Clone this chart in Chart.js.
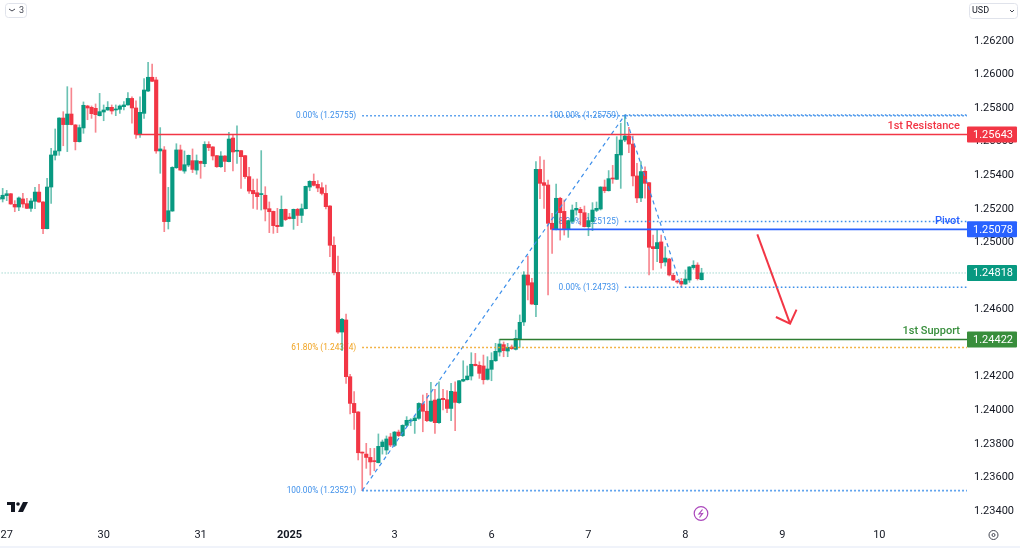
<!DOCTYPE html>
<html>
<head>
<meta charset="utf-8">
<title>Chart</title>
<script src="https://cdn.jsdelivr.net/npm/chart.js@4"></script>
<style>
  html, body { margin: 0; padding: 0; background: #fff; }
  canvas { display: block; }
</style>
</head>
<body>
<canvas id="priceChart" width="1020" height="548"></canvas>
<script>
// hourly candles, one entry per bar
const opens = [
  1.25257,1.25259,1.25279,1.25290,1.25227,1.25211,1.25259,1.25231,1.25203,1.25245,
  1.25300,1.25241,1.25082,1.25330,1.25519,1.25545,1.25741,1.25702,1.25765,1.25700,
  1.25600,1.25682,1.25813,1.25805,1.25799,1.25755,1.25777,1.25789,1.25805,1.25789,
  1.25793,1.25809,1.25819,1.25858,1.25801,1.25644,1.25769,1.25902,1.25984,1.25968,
  1.25545,1.25551,1.25124,1.25187,1.25445,1.25551,1.25425,1.25461,1.25487,1.25431,
  1.25483,1.25469,1.25584,1.25569,1.25517,1.25451,1.25515,1.25481,1.25622,1.25543,
  1.25547,1.25517,1.25392,1.25310,1.25296,1.25285,1.25281,1.25201,1.25185,1.25102,
  1.25096,1.25197,1.25151,1.25142,1.25197,1.25161,1.25201,1.25330,1.25364,1.25346,
  1.25326,1.25292,1.25217,1.24983,1.24822,1.24466,1.24538,1.24200,1.24041,1.23990,
  1.23749,1.23739,1.23719,1.23698,1.23688,1.23783,1.23763,1.23841,1.23791,1.23870,
  1.23849,1.23910,1.23936,1.23938,1.23952,1.24039,1.23994,1.23936,1.24061,1.23926,
  1.24071,1.24063,1.24011,1.24109,1.24045,1.24174,1.24182,1.24204,1.24274,1.24268,
  1.24264,1.24184,1.24244,1.24295,1.24347,1.24391,1.24353,1.24377,1.24363,1.24425,
  1.24526,1.24806,1.24760,1.24629,1.25435,1.25356,1.25342,1.25114,1.25078,1.25263,
  1.25185,1.25078,1.25126,1.25193,1.25197,1.25177,1.25094,1.25124,1.25191,1.25199,
  1.25330,1.25308,1.25382,1.25376,1.25521,1.25610,1.25634,1.25586,1.25396,1.25265,
  1.25424,1.25356,1.24975,1.24963,1.25003,1.24883,1.24901,1.24804,1.24770,1.24768,
  1.24752,1.24776,1.24850,1.24865,1.24778
];
const highs = [
  1.25283,1.25322,1.25310,1.25292,1.25249,1.25271,1.25292,1.25263,1.25261,1.25328,
  1.25346,1.25243,1.25382,1.25561,1.25676,1.25743,1.25779,1.25928,1.25920,1.25702,
  1.25700,1.25837,1.25817,1.25813,1.25825,1.25888,1.25819,1.25839,1.25819,1.25819,
  1.25819,1.25839,1.25892,1.25868,1.25843,1.25868,1.25976,1.26073,1.26063,1.25984,
  1.25684,1.25571,1.25328,1.25451,1.25588,1.25580,1.25545,1.25521,1.25557,1.25521,
  1.25485,1.25600,1.25600,1.25571,1.25519,1.25541,1.25517,1.25656,1.25642,1.25694,
  1.25549,1.25519,1.25447,1.25378,1.25378,1.25547,1.25332,1.25241,1.25187,1.25203,
  1.25277,1.25199,1.25173,1.25199,1.25203,1.25229,1.25336,1.25368,1.25408,1.25368,
  1.25356,1.25342,1.25219,1.25034,1.24919,1.24548,1.24573,1.24214,1.24111,1.23992,
  1.23751,1.23803,1.23773,1.23773,1.23859,1.23823,1.23847,1.23862,1.23874,1.23882,
  1.23914,1.23962,1.23950,1.23970,1.24045,1.24091,1.24101,1.24166,1.24125,1.24170,
  1.24125,1.24117,1.24160,1.24170,1.24178,1.24295,1.24264,1.24343,1.24339,1.24289,
  1.24329,1.24319,1.24343,1.24399,1.24423,1.24407,1.24399,1.24389,1.24478,1.24568,
  1.24826,1.24919,1.24786,1.25481,1.25511,1.25491,1.25372,1.25173,1.25348,1.25269,
  1.25253,1.25131,1.25223,1.25239,1.25209,1.25217,1.25173,1.25237,1.25241,1.25332,
  1.25372,1.25428,1.25459,1.25630,1.25710,1.25759,1.25686,1.25634,1.25471,1.25481,
  1.25451,1.25358,1.25044,1.25078,1.25044,1.24975,1.24905,1.24816,1.24776,1.24786,
  1.24836,1.24856,1.24891,1.24879,1.24846
];
const lows = [
  1.25243,1.25241,1.25249,1.25227,1.25183,1.25189,1.25209,1.25201,1.25185,1.25201,
  1.25239,1.25052,1.25080,1.25233,1.25491,1.25519,1.25576,1.25541,1.25700,1.25551,
  1.25598,1.25650,1.25731,1.25739,1.25656,1.25753,1.25725,1.25787,1.25765,1.25755,
  1.25769,1.25789,1.25817,1.25710,1.25620,1.25626,1.25739,1.25898,1.25958,1.25531,
  1.25412,1.25064,1.25080,1.25185,1.25441,1.25429,1.25412,1.25451,1.25416,1.25406,
  1.25382,1.25451,1.25547,1.25491,1.25447,1.25447,1.25422,1.25479,1.25426,1.25471,
  1.25322,1.25382,1.25292,1.25203,1.25197,1.25193,1.25128,1.25058,1.25054,1.25058,
  1.25094,1.25130,1.25140,1.25078,1.25100,1.25118,1.25199,1.25308,1.25336,1.25302,
  1.25283,1.25199,1.24915,1.24806,1.24458,1.24355,1.24160,1.23978,1.23886,1.23704,
  1.23521,1.23654,1.23614,1.23640,1.23686,1.23739,1.23737,1.23783,1.23783,1.23843,
  1.23843,1.23902,1.23908,1.23862,1.23946,1.23872,1.23932,1.23932,1.23862,1.23922,
  1.24002,1.23986,1.23938,1.23878,1.24041,1.24170,1.24180,1.24180,1.24264,1.24190,
  1.24156,1.24180,1.24176,1.24291,1.24323,1.24319,1.24319,1.24363,1.24359,1.24375,
  1.24505,1.24657,1.24631,1.24558,1.25261,1.25203,1.24687,1.24935,1.25074,1.25014,
  1.25044,1.25030,1.25118,1.25163,1.25104,1.25092,1.25040,1.25070,1.25183,1.25193,
  1.25296,1.25306,1.25352,1.25374,1.25322,1.25600,1.25535,1.25336,1.25237,1.25243,
  1.25263,1.24806,1.24836,1.24885,1.24846,1.24860,1.24800,1.24772,1.24756,1.24733,
  1.24750,1.24762,1.24840,1.24776,1.24776
];
const closes = [
  1.25269,1.25281,1.25290,1.25229,1.25211,1.25265,1.25229,1.25203,1.25247,1.25300,
  1.25241,1.25082,1.25330,1.25521,1.25545,1.25741,1.25702,1.25765,1.25702,1.25600,
  1.25684,1.25817,1.25801,1.25767,1.25761,1.25779,1.25789,1.25805,1.25783,1.25795,
  1.25813,1.25819,1.25858,1.25801,1.25644,1.25775,1.25908,1.25984,1.25960,1.25545,
  1.25557,1.25124,1.25189,1.25447,1.25551,1.25431,1.25463,1.25519,1.25435,1.25487,
  1.25471,1.25584,1.25565,1.25515,1.25451,1.25515,1.25483,1.25616,1.25539,1.25547,
  1.25511,1.25392,1.25306,1.25290,1.25273,1.25288,1.25199,1.25183,1.25100,1.25094,
  1.25197,1.25136,1.25142,1.25197,1.25161,1.25201,1.25334,1.25364,1.25340,1.25324,
  1.25292,1.25213,1.24983,1.24820,1.24466,1.24542,1.24200,1.24041,1.23986,1.23747,
  1.23745,1.23719,1.23692,1.23694,1.23785,1.23811,1.23829,1.23793,1.23870,1.23849,
  1.23910,1.23940,1.23942,1.23954,1.24041,1.23994,1.23938,1.24055,1.23926,1.24067,
  1.24063,1.24011,1.24113,1.24047,1.24176,1.24184,1.24204,1.24274,1.24266,1.24220,
  1.24182,1.24246,1.24297,1.24351,1.24395,1.24355,1.24375,1.24367,1.24428,1.24524,
  1.24806,1.24746,1.24633,1.25435,1.25352,1.25340,1.25114,1.25078,1.25263,1.25177,
  1.25078,1.25130,1.25193,1.25203,1.25177,1.25094,1.25130,1.25193,1.25203,1.25330,
  1.25308,1.25380,1.25378,1.25525,1.25610,1.25634,1.25586,1.25396,1.25265,1.25422,
  1.25352,1.24971,1.24963,1.24999,1.24879,1.24907,1.24806,1.24776,1.24764,1.24752,
  1.24782,1.24854,1.24864,1.24784,1.24818
];

// axes
const priceTicks = [1.234,1.236,1.238,1.240,1.242,1.244,1.246,1.248,1.250,1.252,1.254,1.256,1.258,1.260,1.262];
const timeTicks = [2,26,50,72,98,122,146,170,194,218];
const timeLabels = ['27','30','31','2025','3','6','7','8','9','10'];

// support and resistance
const resistancePrice = 1.25643, pivotPrice = 1.25078, supportPrice = 1.24422, lastPrice = 1.24818;
const resistanceStart = 34, pivotStart = 137, supportStart = 124;

// fib drawings, anchors are bar numbers
const fibLow = 90, fibHigh = 155, fibEnd = 169;
const fibA = [1.25755, 1.24374, 1.23521];
const fibALabels = ['0.00% (1.25755)', '61.80% (1.24374)', '100.00% (1.23521)'];
const fibB = [1.25759, 1.25125, 1.24733];
const fibBLabels = ['100.00% (1.25759)', '38.20% (1.25125)', '0.00% (1.24733)'];

// hand drawn arrow
const arrowBars = [187.8, 195.9];
const arrowPrices = [1.250484, 1.245158];
const headBars = [192.4, 195.9, 197.5];
const headPrices = [1.245557, 1.245158, 1.245992];

const XMIN = 0.34, XMAX = 239.7, YMIN = 1.233403, YMAX = 1.264443;
const UP = '#089981', DOWN = '#F23645', BLUE = '#2962FF', GREEN = '#388E3C', FIB = '#3D8FEA', ORANGE = '#F0A21E';
const WICK_UP = 'rgba(8,153,129,0.6)', WICK_DOWN = 'rgba(242,54,69,0.6)';
const FONT = 'Roboto, "Liberation Sans", sans-serif';

function lineSet(xs, ys, color, width, dash) {
    return {
        type: 'line',
        data: xs.map(function (x, i) { return { x: x, y: ys[i] }; }),
        borderColor: color,
        borderWidth: width,
        borderDash: dash || [],
        pointRadius: 0,
        tension: 0,
        order: 1
    };
}

function hline(start, price, color, width, dash) {
    return lineSet([start, XMAX], [price, price], color, width, dash);
}

const candleColors = closes.map(function (c, i) { return c >= opens[i] ? UP : DOWN; });
const wickColors = closes.map(function (c, i) { return c >= opens[i] ? WICK_UP : WICK_DOWN; });

const overlayPlugin = {
    id: 'overlay',
    beforeDatasetsDraw: function (chart) {
        // fib labels sit behind the candles
        const c = chart.ctx, x = chart.scales.x, y = chart.scales.y;
        c.save();
        c.font = '8.3px ' + FONT;
        c.textAlign = 'right';
        c.textBaseline = 'middle';
        fibA.forEach(function (p, i) {
            c.fillStyle = i === 1 ? ORANGE : FIB;
            c.fillText(fibALabels[i], x.getPixelForValue(fibLow) - 6, y.getPixelForValue(p) + 0.5);
        });
        c.fillStyle = FIB;
        fibB.forEach(function (p, i) {
            c.fillText(fibBLabels[i], x.getPixelForValue(fibHigh) - 6, y.getPixelForValue(p) + 0.5);
        });
        c.restore();
    },
    afterDraw: function (chart) {
        const c = chart.ctx, y = chart.scales.y;
        c.save();

        // names over the level lines
        c.font = '500 11px ' + FONT;
        c.textAlign = 'right';
        c.textBaseline = 'middle';
        [['1st Resistance', resistancePrice, DOWN], ['Pivot', pivotPrice, BLUE], ['1st Support', supportPrice, GREEN]].forEach(function (t) {
            c.fillStyle = t[2];
            c.fillText(t[0], 960, y.getPixelForValue(t[1]) - 8);
        });

        // price tags on the axis
        c.font = '11px ' + FONT;
        c.textAlign = 'center';
        [[resistancePrice, DOWN], [pivotPrice, BLUE], [lastPrice, UP], [supportPrice, GREEN]].forEach(function (t) {
            const py = y.getPixelForValue(t[0]);
            c.fillStyle = t[1];
            c.beginPath();
            c.roundRect(967, py - 8, 50, 16, 1);
            c.fill();
            c.fillStyle = '#fff';
            c.fillText(t[0].toFixed(5), 993, py + 0.5);
        });

        // corner buttons
        c.strokeStyle = '#E0E3EB';
        c.lineWidth = 1;
        c.beginPath();
        c.roundRect(5.5, 3.5, 21, 14, 3);
        c.roundRect(969.5, 3.5, 48, 15, 3);
        c.stroke();
        c.strokeStyle = '#434651';
        c.beginPath();
        c.moveTo(9, 9); c.lineTo(12, 11); c.lineTo(15, 9);
        c.moveTo(1010, 10); c.lineTo(1012, 12); c.lineTo(1014, 10);
        c.stroke();
        c.fillStyle = '#434651';
        c.font = '9px ' + FONT;
        c.textAlign = 'left';
        c.fillText('3', 19, 11);
        c.fillStyle = '#131722';
        c.fillText('USD', 972, 11);

        // logo
        c.fillStyle = '#131722';
        c.fillRect(7, 502, 8, 3);
        c.fillRect(11, 502, 4, 10);
        c.beginPath();
        c.arc(18, 504, 1.8, 0, Math.PI * 2);
        c.fill();
        c.beginPath();
        c.moveTo(23, 502); c.lineTo(28, 502); c.lineTo(23, 512); c.lineTo(18, 512);
        c.closePath();
        c.fill();

        // lightning badge
        c.strokeStyle = '#AB47BC';
        c.lineWidth = 1.2;
        c.beginPath();
        c.arc(701, 513.5, 6.8, 0, Math.PI * 2);
        c.stroke();
        c.beginPath();
        c.moveTo(702.5, 509.5); c.lineTo(699, 514); c.lineTo(702.5, 513.5); c.lineTo(699.5, 517.5);
        c.stroke();

        // settings dot
        c.strokeStyle = '#434651';
        c.lineWidth = 1;
        c.beginPath();
        c.arc(993.5, 535, 4.5, 0, Math.PI * 2);
        c.stroke();
        c.beginPath();
        c.arc(993.5, 535, 1.5, 0, Math.PI * 2);
        c.stroke();

        // bottom edge
        c.fillStyle = '#F0F3FA';
        c.fillRect(0, 546, 1020, 2);
        c.restore();
    }
};

document.addEventListener('DOMContentLoaded', function () {
    const ctx = document.getElementById('priceChart').getContext('2d');
    new Chart(ctx, {
        type: 'bar',
        data: {
            datasets: [
                hline(0, lastPrice, 'rgba(8,153,129,0.55)', 1, [1, 2]),
                hline(resistanceStart, resistancePrice, DOWN, 1.6),
                hline(pivotStart, pivotPrice, BLUE, 1.6),
                hline(supportStart, supportPrice, '#2E7D32', 1.6),
                hline(fibLow, fibA[0], FIB, 1.6, [1.6, 2.4]),
                hline(fibLow, fibA[1], ORANGE, 1.6, [1.6, 2.4]),
                hline(fibLow, fibA[2], FIB, 1.6, [1.6, 2.4]),
                hline(fibHigh, fibB[0], FIB, 1.6, [1.6, 2.4]),
                hline(fibHigh, fibB[1], FIB, 1.6, [1.6, 2.4]),
                hline(fibHigh, fibB[2], FIB, 1.6, [1.6, 2.4]),
                lineSet([fibLow, fibHigh], [fibA[2], fibB[0]], FIB, 1.2, [4, 3.5]),
                lineSet([fibHigh, fibEnd], [fibB[0], fibB[2]], FIB, 1.2, [4, 3.5]),
                lineSet(arrowBars, arrowPrices, DOWN, 2),
                lineSet(headBars, headPrices, DOWN, 2),
                {
                    label: 'wicks',
                    data: opens.map(function (o, i) { return { x: i, y: [lows[i], highs[i]] }; }),
                    backgroundColor: wickColors,
                    barThickness: 1,
                    grouped: false,
                    order: 3
                },
                {
                    label: 'bodies',
                    data: opens.map(function (o, i) { return { x: i, y: [o, closes[i]] }; }),
                    backgroundColor: candleColors,
                    barThickness: 3.5,
                    minBarLength: 1,
                    grouped: false,
                    order: 2
                }
            ]
        },
        options: {
            responsive: false,
            animation: false,
            layout: { padding: 0 },
            plugins: { legend: { display: false }, tooltip: { enabled: false } },
            scales: {
                x: {
                    type: 'linear',
                    offset: false,
                    min: XMIN,
                    max: XMAX,
                    grid: { display: false, drawTicks: false },
                    border: { display: false },
                    afterBuildTicks: function (axis) {
                        axis.ticks = timeTicks.map(function (v) { return { value: v }; });
                    },
                    afterFit: function (axis) {
                        axis.height = 27;
                        axis.paddingLeft = 0;
                        axis.paddingRight = 0;
                    },
                    ticks: {
                        autoSkip: false,
                        maxRotation: 0,
                        padding: 8,
                        color: '#131722',
                        font: function (c) {
                            const bold = c.tick && c.tick.value === 72;
                            return { family: FONT, size: 11, weight: bold ? 'bold' : 'normal' };
                        },
                        callback: function (v) { return timeLabels[timeTicks.indexOf(v)]; }
                    }
                },
                y: {
                    type: 'linear',
                    position: 'right',
                    min: YMIN,
                    max: YMAX,
                    grid: { display: false, drawTicks: false },
                    border: { display: false },
                    afterBuildTicks: function (axis) {
                        axis.ticks = priceTicks.map(function (v) { return { value: v }; });
                    },
                    afterFit: function (axis) {
                        axis.width = 53;
                        axis.paddingTop = 0;
                        axis.paddingBottom = 0;
                    },
                    ticks: {
                        autoSkip: false,
                        padding: 7,
                        crossAlign: 'near',
                        color: '#131722',
                        font: { family: FONT, size: 11 },
                        callback: function (v) { return v.toFixed(5); }
                    }
                }
            }
        },
        plugins: [overlayPlugin]
    });
});
</script>
</body>
</html>
